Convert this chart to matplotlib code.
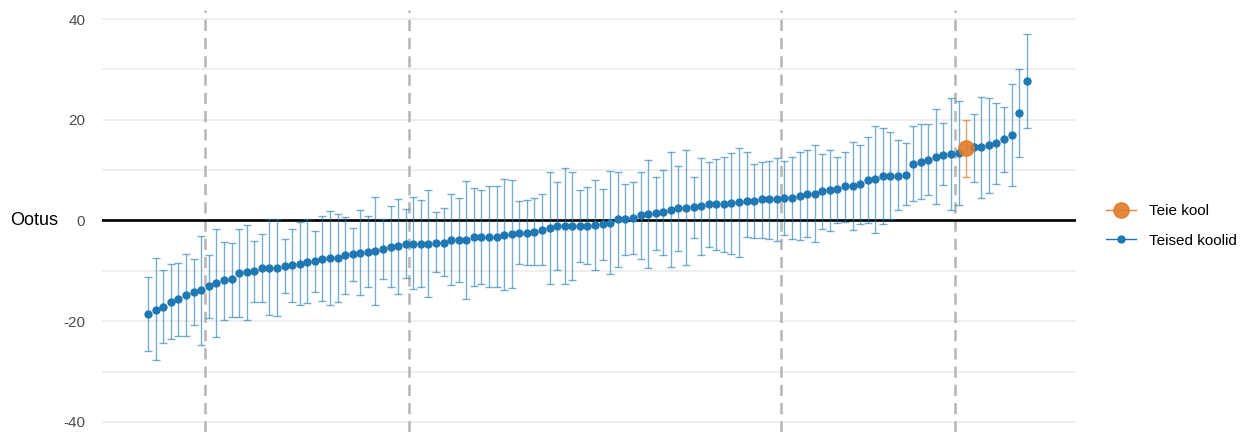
import numpy as np
import matplotlib.pyplot as plt
from matplotlib.lines import Line2D

plt.rcParams['font.family'] = ['Liberation Sans', 'DejaVu Sans']
plt.rcParams['axes.unicode_minus'] = False

# koolide hinnangud (sorteeritud), 95% usaldusvahemik
hinnang = [-18.6, -17.7, -17.1, -16.2, -15.6, -14.7, -14.2, -13.9, -13.0, -12.4,
           -11.9, -11.7, -10.5, -10.3, -10.1, -9.5, -9.5, -9.4, -9.1, -8.9,
           -8.6, -8.3, -8.1, -7.6, -7.4, -7.4, -6.9, -6.7, -6.4, -6.2,
           -6.1, -5.7, -5.2, -5.0, -4.7, -4.6, -4.6, -4.6, -4.4, -4.4,
           -3.9, -3.8, -3.8, -3.3, -3.3, -3.2, -3.2, -2.9, -2.7, -2.5,
           -2.4, -2.2, -1.8, -1.5, -1.1, -1.1, -1.1, -1.1, -1.0, -0.9,
           -0.7, -0.5, 0.2, 0.2, 0.5, 1.1, 1.3, 1.4, 1.7, 2.1,
           2.4, 2.5, 2.6, 2.8, 3.2, 3.2, 3.2, 3.4, 3.6, 3.9,
           3.9, 4.2, 4.2, 4.2, 4.4, 4.4, 4.9, 5.2, 5.3, 5.8,
           6.0, 6.2, 6.8, 6.8, 7.2, 8.1, 8.2, 8.8, 8.9, 8.9,
           9.1, 11.3, 11.7, 12.1, 12.7, 13.1, 13.2, 13.4, 14.3, 14.5,
           14.6, 14.9, 15.3, 16.2, 17.0, 21.3, 27.8]
alumine = [-26.0, -27.7, -24.4, -23.5, -22.9, -22.9, -20.7, -24.7, -19.3, -23.1,
           -19.7, -19.1, -19.2, -19.7, -16.2, -16.2, -18.7, -18.9, -14.4, -16.2,
           -16.8, -16.4, -14.2, -15.9, -16.7, -16.1, -14.5, -12.0, -14.8, -13.2,
           -16.8, -11.7, -13.3, -14.5, -11.5, -13.7, -13.2, -15.1, -10.3, -11.1,
           -12.9, -12.3, -15.5, -13.0, -12.6, -13.3, -13.3, -13.9, -13.5, -8.7,
           -8.9, -8.9, -8.9, -12.6, -9.9, -12.7, -11.9, -8.2, -8.6, -9.8,
           -7.8, -10.6, -9.3, -6.8, -6.6, -7.6, -9.5, -5.8, -6.8, -9.3,
           -6.1, -8.9, -3.5, -6.8, -5.3, -5.8, -6.2, -6.7, -7.3, -3.3,
           -3.4, -3.4, -3.6, -4.0, -2.8, -3.6, -3.8, -3.3, -4.2, -1.6,
           -2.0, -0.5, -0.3, -1.9, -0.7, -0.4, -2.4, -0.7, 0.3, 2.1,
           3.0, 3.9, 4.3, 5.0, 3.3, 7.0, 2.0, 3.0, 8.6, 7.7,
           4.4, 5.4, 7.3, 9.7, 6.8, 12.6, 18.4]
ulemine = [-11.2, -7.4, -9.8, -8.7, -8.5, -6.6, -7.7, -3.1, -6.9, -1.6,
           -4.2, -4.4, -1.7, -0.9, -4.1, -2.7, 0.2, 0.3, -3.7, -1.7,
           -0.2, 0.3, -2.0, 0.8, 1.9, 1.3, 0.7, -1.5, 2.0, 0.9,
           4.6, 0.3, 2.8, 4.3, 2.2, 4.6, 4.1, 6.1, 1.7, 2.5,
           5.2, 4.5, 7.8, 6.4, 6.1, 6.9, 6.8, 8.2, 8.1, 3.8,
           4.1, 4.4, 5.3, 9.6, 7.6, 10.5, 9.6, 6.1, 6.6, 8.0,
           6.3, 9.8, 9.7, 7.2, 7.6, 9.7, 12.1, 8.6, 10.0, 13.7,
           10.8, 13.9, 8.6, 12.4, 11.7, 12.2, 12.6, 13.4, 14.4, 13.6,
           11.3, 11.7, 11.9, 12.4, 11.8, 12.6, 13.7, 13.9, 14.9, 13.3,
           14.0, 12.7, 13.6, 15.6, 14.9, 16.6, 18.8, 18.3, 17.5, 16.0,
           15.3, 18.8, 19.1, 19.1, 22.2, 19.4, 24.4, 23.7, 19.9, 21.2,
           24.5, 24.3, 23.3, 22.5, 27.2, 30.1, 37.1]
teie_kool = 108                       # indeks ülalolevates loendites
piirid = [7.5, 34.5, 83.5, 106.5]     # punktiirjooned
y_ticks = [-40, -20, 0, 20, 40]

sinine = '#1f78b4'
oranz = '#e07b2a'

hinnang = np.array(hinnang)
alumine = np.array(alumine)
ulemine = np.array(ulemine)
x = np.arange(len(hinnang))
muud = x != teie_kool

fig = plt.figure(figsize=(12.45, 4.32), dpi=100)
ax = fig.add_axes([102 / 1245, 0, 974 / 1245, 422 / 432])

for yv in range(-40, 41, 10):
    ax.axhline(yv, color='#ebebeb', lw=1.1, zorder=0)
for p in piirid:
    ax.axvline(p, color='#b5b5b5', lw=1.8, ls=(0, (4.5, 2.8)), zorder=1)
ax.axhline(0, color='black', lw=1.9, zorder=2)

ax.errorbar(x[muud], hinnang[muud],
            yerr=[hinnang[muud] - alumine[muud], ulemine[muud] - hinnang[muud]],
            fmt='none', ecolor=sinine, alpha=0.6, elinewidth=1.0,
            capsize=3, capthick=1.0, zorder=3)
ax.plot(x[muud], hinnang[muud], 'o', color=sinine, ms=5, zorder=4)

t = teie_kool
ax.errorbar([t], [hinnang[t]],
            yerr=[[hinnang[t] - alumine[t]], [ulemine[t] - hinnang[t]]],
            fmt='none', ecolor=oranz, alpha=0.7, elinewidth=1.0,
            capsize=3, capthick=1.0, zorder=5)
ax.plot([t], [hinnang[t]], 'o', color=oranz, ms=11, alpha=0.9, zorder=6)

ax.set_xlim(-6.1, 122.5)
ax.set_ylim(-42.0, 41.8)
ax.set_yticks(y_ticks)
ax.set_xticks([])
ax.tick_params(axis='y', length=0, labelsize=11, labelcolor='#4d4d4d', pad=12)
for s in ax.spines.values():
    s.set_visible(False)

fig.text(10 / 1245, 1 - 220 / 432, 'Ootus', fontsize=13, va='center', ha='left')

kasitsi = [Line2D([], [], color=oranz, marker='o', ms=11, lw=1, alpha=0.9),
           Line2D([], [], color=sinine, marker='o', ms=5, lw=1)]
fig.legend(kasitsi, ['Teie kool', 'Teised koolid'], loc='center left',
           bbox_to_anchor=(1092 / 1245, 1 - 226 / 432), frameon=False,
           fontsize=11, handlelength=2.0, labelspacing=1.0)

fig.savefig('out.png', dpi=100)
